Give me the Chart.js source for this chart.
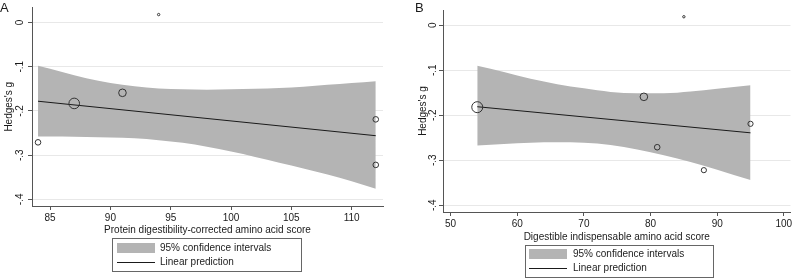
<!DOCTYPE html>
<html>
<head>
<meta charset="utf-8">
<script src="https://cdn.jsdelivr.net/npm/chart.js@4.4.1/dist/chart.umd.min.js"></script>
<style>
  body { margin: 0; background: #fff; font-family: 'Liberation Sans', Arial, sans-serif; color: #1a1a1a; }
  #wrap { position: relative; width: 797px; height: 278px; overflow: hidden; }
  canvas { position: absolute; top: 0; }
  .panel { position: absolute; font-size: 13px; line-height: 15px; }
  .legend { position: absolute; border: 1px solid #666; box-sizing: border-box; font-size: 10px; }
  .legend div, .legend span { position: absolute; }
  .legend span { line-height: 12px; white-space: nowrap; color: #222; }
  .sw { width: 38px; height: 10px; background: #b4b4b4; }
  .ln { width: 38px; height: 0; border-top: 1px solid #1a1a1a; }
</style>
</head>
<body>
<div id="wrap">
  <canvas id="chartA" width="395" height="240" style="left:0"></canvas>
  <canvas id="chartB" width="397" height="246" style="left:400px"></canvas>
  <span class="panel" style="left:0;top:0">A</span>
  <span class="panel" style="left:415px;top:0">B</span>

  <div class="legend" style="left:112px;top:238px;width:190px;height:34px">
    <div class="sw" style="left:4px;top:4px"></div>
    <span style="left:47px;top:3px">95% confidence intervals</span>
    <div class="ln" style="left:4px;top:23px"></div>
    <span style="left:47px;top:17px">Linear prediction</span>
  </div>
  <div class="legend" style="left:525px;top:245px;width:189px;height:33px">
    <div class="sw" style="left:3px;top:3px"></div>
    <span style="left:47px;top:2px">95% confidence intervals</span>
    <div class="ln" style="left:3px;top:22px"></div>
    <span style="left:47px;top:16px">Linear prediction</span>
  </div>
</div>
<script>
// panel A: PDCAAS
const scoreA = [84, 87, 91, 94, 112, 112];
const gA = [-0.271, -0.183, -0.159, 0.018, -0.219, -0.322];
const radiusA = [2.8, 5.3, 3.8, 1.2, 2.8, 2.8];
const fitXA = [84, 112];
const fitYA = [-0.178, -0.256];
const bandXA = [84, 86, 88, 90, 92, 94, 96, 98, 100, 102, 104, 106, 108, 110, 112];
const bandUpA = [-0.098, -0.112, -0.126, -0.137, -0.144, -0.149, -0.151, -0.152, -0.151, -0.150, -0.148, -0.145, -0.141, -0.137, -0.133];
const bandLoA = [-0.258, -0.258, -0.259, -0.260, -0.262, -0.266, -0.272, -0.281, -0.292, -0.304, -0.317, -0.330, -0.344, -0.359, -0.376];
const xTicksA = [85, 90, 95, 100, 105, 110];

// panel B: DIAAS
const scoreB = [54, 79, 81, 85, 88, 95];
const gB = [-0.182, -0.159, -0.271, 0.019, -0.322, -0.219];
const radiusB = [5.5, 3.8, 2.8, 1.2, 2.6, 2.6];
const fitXB = [54, 95];
const fitYB = [-0.181, -0.239];
const bandXB = [54, 58, 62, 66, 70, 74, 78, 82, 86, 90, 95];
const bandUpB = [-0.090, -0.104, -0.119, -0.131, -0.140, -0.148, -0.151, -0.151, -0.147, -0.141, -0.133];
const bandLoB = [-0.267, -0.264, -0.261, -0.260, -0.261, -0.266, -0.276, -0.289, -0.304, -0.321, -0.344];
const xTicksB = [50, 60, 70, 80, 90, 100];

const yTicks = [0, -0.1, -0.2, -0.3, -0.4];
const yTickLabels = ['0', '-.1', '-.2', '-.3', '-.4'];

const family = "'Liberation Sans', Arial, sans-serif";
const txt = '#1a1a1a';
const axisCol = '#555';

function pts(xs, ys) {
    return xs.map((x, i) => ({ x: x, y: ys[i] }));
}

function buildChart(id, o) {
    return new Chart(document.getElementById(id), {
        type: 'line',
        data: {
            datasets: [
                {
                    type: 'scatter',
                    data: pts(o.xs, o.ys),
                    pointRadius: o.radius,
                    pointHoverRadius: o.radius,
                    pointBorderColor: '#333',
                    pointBackgroundColor: 'rgba(0,0,0,0)',
                    pointBorderWidth: 1,
                    showLine: false
                },
                {
                    data: pts(o.fitX, o.fitY),
                    borderColor: txt,
                    borderWidth: 1,
                    pointRadius: 0,
                    fill: false,
                    tension: 0
                },
                {
                    data: pts(o.bandX, o.bandUp),
                    borderColor: 'rgba(0,0,0,0)',
                    borderWidth: 0,
                    pointRadius: 0,
                    backgroundColor: '#b4b4b4',
                    fill: '+1',
                    cubicInterpolationMode: 'monotone'
                },
                {
                    data: pts(o.bandX, o.bandLo),
                    borderColor: 'rgba(0,0,0,0)',
                    borderWidth: 0,
                    pointRadius: 0,
                    fill: false,
                    cubicInterpolationMode: 'monotone'
                }
            ]
        },
        options: {
            responsive: false,
            animation: false,
            layout: { padding: o.pad },
            plugins: { legend: { display: false }, tooltip: { enabled: false } },
            scales: {
                x: {
                    type: 'linear',
                    bounds: 'data',
                    min: o.xMin,
                    max: o.xMax,
                    afterBuildTicks: s => { s.ticks = o.xTicks.map(v => ({ value: v })); },
                    afterFit: s => { s.height = o.xAxisH; s.paddingLeft = 0; s.paddingRight = 0; },
                    ticks: { font: { size: 10, family: family }, color: txt, padding: 2, maxRotation: 0, autoSkip: false },
                    grid: { drawOnChartArea: false, tickLength: 4, tickColor: axisCol },
                    border: { color: axisCol, width: 1 },
                    title: { display: true, text: o.xTitle, font: { size: 10, family: family }, color: txt, padding: { top: 0, bottom: o.xTitlePad } }
                },
                y: {
                    bounds: 'data',
                    min: -0.415,
                    max: 0.034,
                    afterBuildTicks: s => { s.ticks = yTicks.map(v => ({ value: v })); },
                    afterFit: s => { s.width = o.yAxisW; },
                    ticks: {
                        font: { size: 10, family: family }, color: txt,
                        minRotation: 90, maxRotation: 90, crossAlign: 'center', padding: o.yTickPad,
                        callback: (v, i) => yTickLabels[i]
                    },
                    grid: { color: '#e8e8e8', tickLength: 4, tickColor: axisCol },
                    border: { color: axisCol, width: 1 },
                    title: { display: true, text: "Hedges's g", font: { size: 10, family: family }, color: txt, padding: { top: o.yTitlePad, bottom: 0 } }
                }
            }
        }
    });
}

buildChart('chartA', {
    xs: scoreA, ys: gA, radius: radiusA,
    fitX: fitXA, fitY: fitYA,
    bandX: bandXA, bandUp: bandUpA, bandLo: bandLoA,
    xTicks: xTicksA, xMin: 83.5, xMax: 112.6,
    xTitle: 'Protein digestibility-corrected amino acid score',
    pad: { top: 4, right: 12, left: 0, bottom: 0 },
    xAxisH: 34, xTitlePad: 4, yAxisW: 32, yTickPad: 1.5, yTitlePad: 3
});

buildChart('chartB', {
    xs: scoreB, ys: gB, radius: radiusB,
    fitX: fitXB, fitY: fitYB,
    bandX: bandXB, bandUp: bandUpB, bandLo: bandLoB,
    xTicks: xTicksB, xMin: 48.86, xMax: 101,
    xTitle: 'Digestible indispensable amino acid score',
    pad: { top: 10, right: 2, left: 0, bottom: 0 },
    xAxisH: 34, xTitlePad: 2.7, yAxisW: 43, yTickPad: 0, yTitlePad: 17.5
});
</script>
</body>
</html>
